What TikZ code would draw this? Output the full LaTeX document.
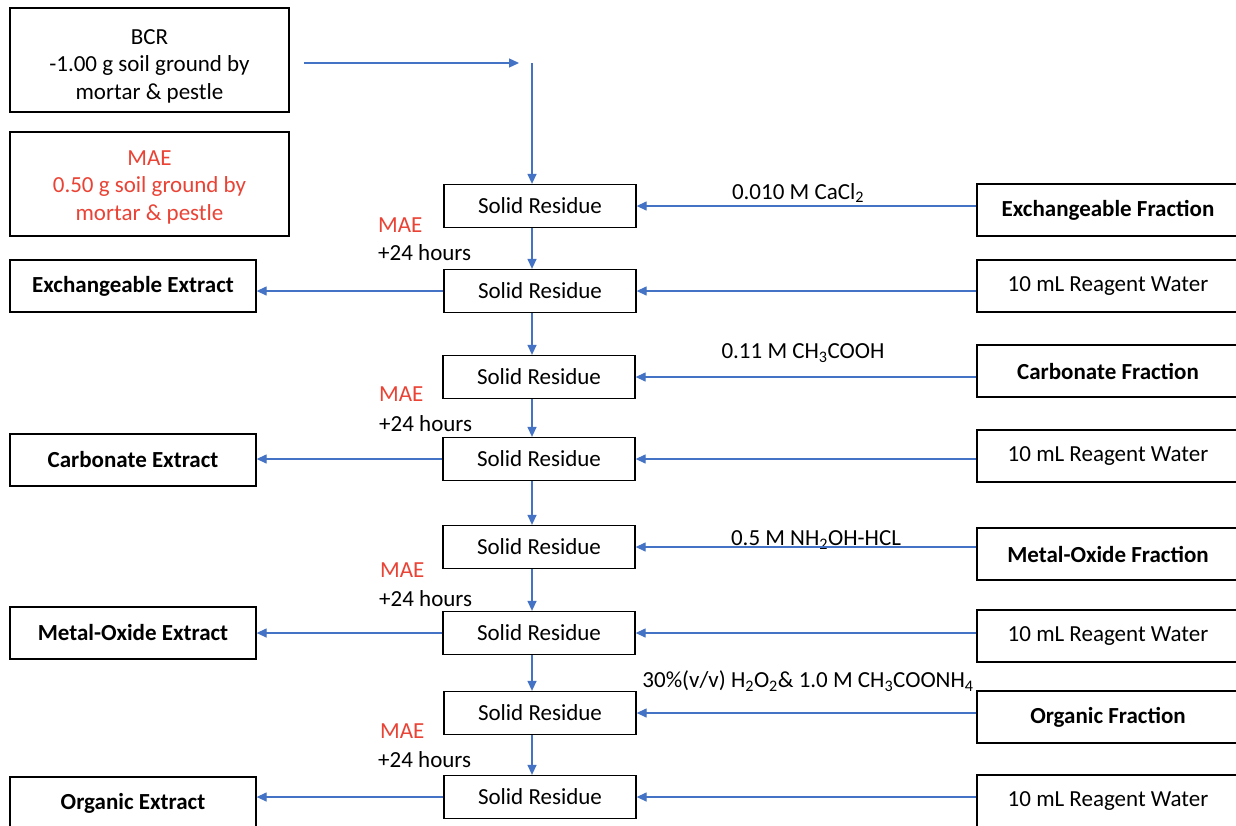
\documentclass[tikz,border=0pt]{standalone}
\usepackage{fontspec}
\setmainfont{Carlito}
\usetikzlibrary{arrows.meta}
\definecolor{arrblue}{RGB}{68,114,196}
\definecolor{maered}{RGB}{234,67,53}
\begin{document}
\begin{tikzpicture}[x=1pt,y=-1pt,
  box/.style={draw=black,line width=1.3pt,minimum height=52pt,inner sep=0pt,font=\fontsize{23}{27}\selectfont,align=center},
  bigbox/.style={draw=black,line width=1.3pt,minimum width=279pt,minimum height=104pt,inner sep=0pt},
  srbox/.style={box,minimum width=192pt,minimum height=43pt},
  extbox/.style={box,minimum width=246pt,font=\fontsize{23}{27}\selectfont\bfseries},
  fracbox/.style={box,minimum width=262pt,font=\fontsize{23}{27}\selectfont\bfseries},
  waterbox/.style={box,minimum width=262pt},
  arr/.style={draw=arrblue,line width=1.3pt,-{Triangle[length=10pt,width=9pt]}},
  lbl/.style={font=\fontsize{23}{27}\selectfont,inner sep=0pt},
  bigtext/.style={lbl,align=center,font=\fontsize{23}{27.5}\selectfont},
  maelbl/.style={lbl,text=maered,anchor=west},
  hrslbl/.style={lbl,anchor=west}]
\clip (0,0) rectangle (1236,825);
\fill[white] (0,0) rectangle (1236,825);
% top boxes
\node[bigbox] (bcr) at (149.5,60) {};
\node[bigtext] (bcrt) at ([yshift=-6pt]bcr.center) {BCR\\-1.00 g soil ground by\\mortar \& pestle};
\node[bigbox] (mae) at (149.5,184) {};
\node[bigtext,text=maered] (maet) at ([yshift=-3pt]mae.center) {MAE\\0.50 g soil ground by\\mortar \& pestle};
\coordinate (a1) at (304,63);
\coordinate (a2) at (519,63);
\coordinate (v1) at (532,63);
% solid residues
\node[srbox] (sr1) at (540,206) {Solid Residue};
\node[srbox] (sr2) at (540,291) {Solid Residue};
\node[srbox] (sr3) at (539,377) {Solid Residue};
\node[srbox] (sr4) at (539,459) {Solid Residue};
\node[srbox] (sr5) at (539,547) {Solid Residue};
\node[srbox] (sr6) at (539,633) {Solid Residue};
\node[srbox] (sr7) at (540,713) {Solid Residue};
\node[srbox] (sr8) at (540,797) {Solid Residue};
% right boxes
\node[fracbox] (ef) at (1108,210) {Exchangeable Fraction};
\node[waterbox] (rw1) at (1108,286) {10 mL Reagent Water};
\node[fracbox] (cf) at (1108,371) {Carbonate Fraction};
\node[waterbox] (rw2) at (1108,456) {10 mL Reagent Water};
\node[fracbox] (mof) at (1108,554) {Metal-Oxide Fraction};
\node[waterbox] (rw3) at (1108,636) {10 mL Reagent Water};
\node[fracbox] (of) at (1108,717) {Organic Fraction};
\node[waterbox] (rw4) at (1108,801) {10 mL Reagent Water};
% extracts
\node[extbox] (ee) at (133,286) {Exchangeable Extract};
\node[extbox] (ce) at (133,460) {Carbonate Extract};
\node[extbox] (me) at (133,633) {Metal-Oxide Extract};
\node[extbox] (oe) at (133,803) {Organic Extract};
% reagent labels
\node[lbl] (l1) at (798,193) {0.010 M CaCl\textsubscript{2}};
\node[lbl] (l2) at (803,353) {0.11 M CH\textsubscript{3}COOH};
\node[lbl] (l3) at (816,540) {0.5 M NH\textsubscript{2}OH-HCL};
\node[lbl] (l4) at (808,681) {30\%(v/v) H\textsubscript{2}O\textsubscript{2}\& 1.0 M CH\textsubscript{3}COONH\textsubscript{4}};
% MAE labels
\node[maelbl] (m1) at (378,225) {MAE};
\node[hrslbl] (h1) at (378,253) {+24 hours};
\node[maelbl] (m2) at (379,394) {MAE};
\node[hrslbl] (h2) at (379,424) {+24 hours};
\node[maelbl] (m3) at (380,570) {MAE};
\node[hrslbl] (h3) at (379,599) {+24 hours};
\node[maelbl] (m4) at (380,731) {MAE};
\node[hrslbl] (h4) at (378,760) {+24 hours};
% arrows
\draw[arr] (a1) -- (a2);
\draw[arr] (v1) -- (v1 |- sr1.north);
\foreach \u/\v in {sr1/sr2,sr2/sr3,sr3/sr4,sr4/sr5,sr5/sr6,sr6/sr7,sr7/sr8}
  \draw[arr] (v1 |- \u.south) -- (v1 |- \v.north);
\foreach \r/\s in {ef/sr1,rw1/sr2,cf/sr3,rw2/sr4,mof/sr5,rw3/sr6,of/sr7,rw4/sr8}
  \draw[arr] (\r.west |- \s.east) -- (\s.east);
\foreach \s/\e in {sr2/ee,sr4/ce,sr6/me,sr8/oe}
  \draw[arr] (\s.west) -- (\e.east |- \s.west);
\end{tikzpicture}
\end{document}
